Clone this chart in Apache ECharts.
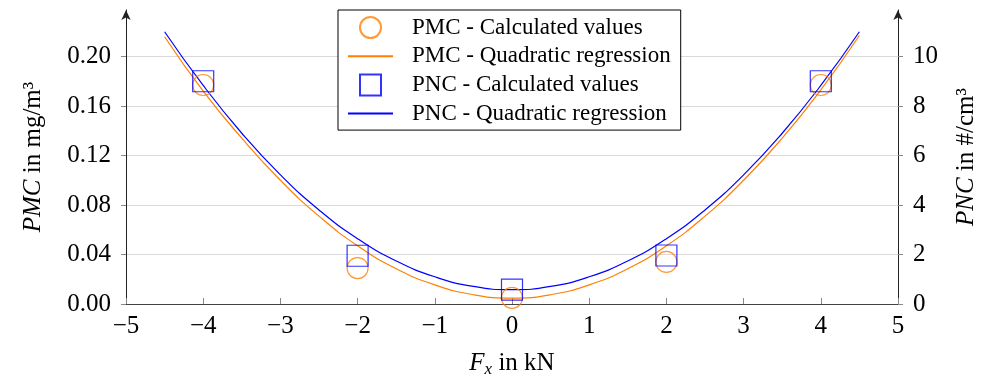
<!DOCTYPE html>
<html>
<head>
<meta charset="utf-8">
<script src="https://cdn.jsdelivr.net/npm/echarts@6/dist/echarts.min.js"></script>
<style>
  html, body { margin: 0; padding: 0; background: #fff; }
  #chart { width: 990px; height: 383px; }
</style>
</head>
<body>
<div id="chart"></div>
<script>
// Calculated values at the measured forces
const forces = [-4, -2, 0, 2, 4];
const pmcValues = [0.177, 0.029, 0.005, 0.034, 0.177];
const pncValues = [9.0, 1.95, 0.58, 1.96, 9.0];

// Quadratic regression curves
const fitForces = [-4.5, -4, -3.5, -3, -2.5, -2, -1.5, -1, -0.5, 0, 0.5, 1, 1.5, 2, 2.5, 3, 3.5, 4, 4.5];
const pmcFit = [0.216, 0.172, 0.134, 0.100, 0.071, 0.047, 0.0285, 0.0155, 0.0075, 0.0048,
  0.0075, 0.0155, 0.0285, 0.047, 0.071, 0.100, 0.134, 0.173, 0.217];
const pncFit = [11.0, 8.83, 6.90, 5.22, 3.80, 2.64, 1.74, 1.10, 0.71, 0.58,
  0.71, 1.10, 1.74, 2.64, 3.80, 5.22, 6.90, 8.83, 11.0];

const ORANGE = "#ff8000";
const BLUE = "#0000ff";
const FONT = "Liberation Serif";

// square legend icon kept square inside the 45px wide legend slot
const SQUARE_ICON = "path://M0,0 M45,21 M12,0 H33 V21 H12 Z";

const pairs = (xs, ys) => xs.map((x, i) => [x, ys[i]]);

const chart = echarts.init(document.getElementById("chart"));

const yAxisBase = {
  type: "value",
  min: 0,
  nameLocation: "middle",
  nameRotate: 90,
  axisLine: {
    show: true,
    onZero: false,
    lineStyle: { color: "#222", width: 1 },
    symbol: ["none", "arrow"],
    symbolSize: [7, 10],
  },
  axisTick: { show: true, inside: false, length: 5, lineStyle: { color: "#888" } },
  splitLine: { show: true, showMaxLine: false, lineStyle: { color: "#d9d9d9", width: 1 } },
  axisLabel: { showMaxLabel: false, fontFamily: FONT, fontSize: 25, color: "#000", margin: 15 },
};

const option = {
  animation: false,
  backgroundColor: "#fff",
  grid: { left: 126, right: 92, top: 10, bottom: 76 },
  legend: {
    orient: "vertical",
    left: 338,
    top: 10,
    padding: [6, 10, 5, 9],
    backgroundColor: "#fff",
    borderColor: "#000",
    borderWidth: 1,
    borderRadius: 0,
    itemWidth: 45,
    itemHeight: 21,
    itemGap: 5.7,
    symbolKeepAspect: true,
    textStyle: { fontFamily: FONT, fontSize: 23, lineHeight: 21, color: "#000", padding: [0, 0, 0, 14] },
    data: [
      "PMC - Calculated values",
      "PMC - Quadratic regression",
      { name: "PNC - Calculated values", icon: SQUARE_ICON },
      "PNC - Quadratic regression",
    ],
  },
  xAxis: {
    type: "value",
    min: -5,
    max: 5,
    interval: 1,
    name: "{i|F}{s|x} in kN",
    nameLocation: "middle",
    nameGap: 44,
    nameTextStyle: {
      fontFamily: FONT,
      fontSize: 25,
      color: "#000",
      rich: {
        i: { fontFamily: FONT, fontSize: 25, fontStyle: "italic", lineHeight: 30 },
        s: { fontFamily: FONT, fontSize: 17, fontStyle: "italic", verticalAlign: "bottom", lineHeight: 14 },
      },
    },
    axisLine: { show: true, onZero: false, lineStyle: { color: "#444", width: 1 } },
    axisTick: { show: true, inside: true, length: 6, lineStyle: { color: "#888" } },
    splitLine: { show: false },
    axisLabel: {
      fontFamily: FONT,
      fontSize: 25,
      color: "#000",
      margin: 10,
      formatter: (v) => String(v).replace("-", "\u2212"),
    },
  },
  yAxis: [
    Object.assign({}, yAxisBase, {
      position: "left",
      max: 0.2376,
      interval: 0.04,
      name: "{i|PMC} in mg/m\u00b3",
      nameGap: 80,
      nameTextStyle: {
        fontFamily: FONT,
        fontSize: 25,
        color: "#000",
        rich: { i: { fontFamily: FONT, fontSize: 25, fontStyle: "italic" } },
      },
      axisLabel: Object.assign({}, yAxisBase.axisLabel, { formatter: (v) => v.toFixed(2) }),
    }),
    Object.assign({}, yAxisBase, {
      position: "right",
      max: 11.88,
      interval: 2,
      name: "{i|PNC} in #/cm\u00b3",
      nameGap: 56,
      nameTextStyle: {
        fontFamily: FONT,
        fontSize: 25,
        color: "#000",
        rich: { i: { fontFamily: FONT, fontSize: 25, fontStyle: "italic" } },
      },
      splitLine: { show: false },
      axisLabel: Object.assign({}, yAxisBase.axisLabel, { formatter: (v) => String(Math.round(v)) }),
    }),
  ],
  series: [
    {
      name: "PMC - Calculated values",
      type: "scatter",
      yAxisIndex: 0,
      symbol: "circle",
      symbolSize: 21,
      itemStyle: { color: "transparent", borderColor: ORANGE, borderWidth: 1.2 },
      data: pairs(forces, pmcValues),
      z: 3,
    },
    {
      name: "PMC - Quadratic regression",
      type: "line",
      yAxisIndex: 0,
      smooth: true,
      symbol: "none",
      showSymbol: false,
      clip: false,
      lineStyle: { color: ORANGE, width: 1.2 },
      itemStyle: { color: "transparent", borderColor: "transparent" },
      data: pairs(fitForces, pmcFit),
      z: 2,
    },
    {
      name: "PNC - Calculated values",
      type: "scatter",
      yAxisIndex: 1,
      symbol: "rect",
      symbolSize: 21,
      itemStyle: { color: "transparent", borderColor: BLUE, borderWidth: 1.2 },
      data: pairs(forces, pncValues),
      z: 4,
    },
    {
      name: "PNC - Quadratic regression",
      type: "line",
      yAxisIndex: 1,
      smooth: true,
      symbol: "none",
      showSymbol: false,
      clip: false,
      lineStyle: { color: BLUE, width: 1.2 },
      itemStyle: { color: "transparent", borderColor: "transparent" },
      data: pairs(fitForces, pncFit),
      z: 2,
    },
  ],
};

chart.setOption(option);
</script>
</body>
</html>
